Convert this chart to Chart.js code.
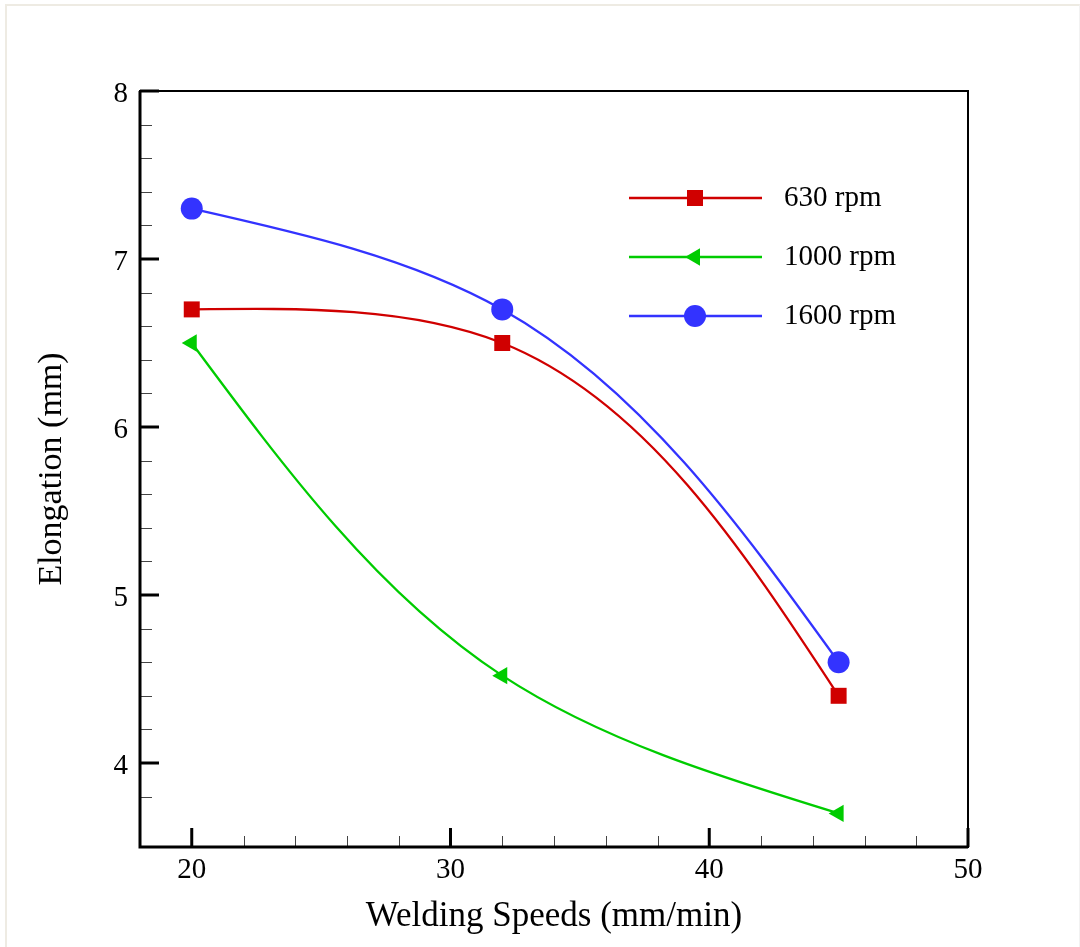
<!DOCTYPE html>
<html>
<head>
<meta charset="utf-8">
<script src="https://cdn.jsdelivr.net/npm/chart.js@4.4.1/dist/chart.umd.min.js"></script>
<style>
  html, body { margin: 0; padding: 0; background: #fff; }
  .wrap { position: relative; width: 1080px; height: 947px; }
  .frame {
    position: absolute; left: 5px; top: 4px; right: 0; bottom: 0;
    border-top: 2px solid #eeebe3; border-left: 2px solid #eeebe3;
    border-right: 1px solid #f2f2f2; pointer-events: none;
  }
  canvas { position: absolute; left: 0; top: 0; }
</style>
</head>
<body>
<div class="wrap">
  <canvas id="myChart" width="1080" height="947"></canvas>
  <div class="frame"></div>
</div>
<script>
const speeds = [20, 32, 45];
const rpm630 = [6.7, 6.5, 4.4];
const rpm1000 = [6.5, 4.52, 3.7];
const rpm1600 = [7.3, 6.7, 4.6];
const seriesLabels = ["630 rpm", "1000 rpm", "1600 rpm"];
const xTicks = [20, 30, 40, 50];
const yTicks = [4, 5, 6, 7, 8];

const serif = "'Liberation Serif', 'Times New Roman', serif";

const toPoints = (ys) => ys.map((y, i) => ({ x: speeds[i], y: y }));

// natural cubic spline on knots s, returns end derivatives of each segment
function naturalSpline(s, v) {
  const n = v.length;
  const h = [];
  const d = [];
  for (let i = 0; i < n - 1; i++) {
    h.push(s[i + 1] - s[i]);
    d.push((v[i + 1] - v[i]) / h[i]);
  }
  const M = new Array(n).fill(0);
  const c = [];
  const r = [];
  for (let i = 1; i < n - 1; i++) {
    const a = h[i - 1];
    const b = 2 * (h[i - 1] + h[i]);
    const rhs = 6 * (d[i] - d[i - 1]);
    const den = i === 1 ? b : b - a * c[i - 1];
    c[i] = h[i] / den;
    r[i] = (i === 1 ? rhs : rhs - a * r[i - 1]) / den;
  }
  for (let i = n - 2; i >= 1; i--) M[i] = r[i] - c[i] * M[i + 1];
  return (i) => [
    d[i] - (h[i] * (2 * M[i] + M[i + 1])) / 6,
    d[i] + (h[i] * (M[i] + 2 * M[i + 1])) / 6,
  ];
}

// smooth the lines like the original plot: parametric spline over chord length
const chordSpline = {
  id: "chordSpline",
  beforeDatasetsDraw(chart) {
    chart.data.datasets.forEach((ds, k) => {
      const meta = chart.getDatasetMeta(k);
      const pts = meta.data;
      if (pts.length < 3) return;
      meta.dataset.updateControlPoints(chart.chartArea);
      const s = [0];
      for (let i = 1; i < pts.length; i++) {
        s.push(s[i - 1] + Math.hypot(pts[i].x - pts[i - 1].x, pts[i].y - pts[i - 1].y));
      }
      const sx = naturalSpline(s, pts.map((p) => p.x));
      const sy = naturalSpline(s, pts.map((p) => p.y));
      for (let i = 0; i < pts.length - 1; i++) {
        const h = (s[i + 1] - s[i]) / 3;
        const [x0, x1] = sx(i);
        const [y0, y1] = sy(i);
        pts[i].cp2x = pts[i].x + x0 * h;
        pts[i].cp2y = pts[i].y + y0 * h;
        pts[i + 1].cp1x = pts[i + 1].x - x1 * h;
        pts[i + 1].cp1y = pts[i + 1].y - y1 * h;
      }
    });
  },
};

// box round the plot + inward major/minor ticks
const frameTicks = {
  id: "frameTicks",
  beforeDatasetsDraw(chart) {
    const { ctx, chartArea: a, scales } = chart;
    const xs = scales.x;
    const ys = scales.y;
    ctx.save();
    // minor ticks
    ctx.lineWidth = 1;
    ctx.strokeStyle = "#444";
    for (let v = xs.min + 2; v < xs.max; v += 2) {
      if (xTicks.includes(v)) continue;
      const px = Math.round(xs.getPixelForValue(v)) + 0.5;
      ctx.beginPath();
      ctx.moveTo(px, a.bottom);
      ctx.lineTo(px, a.bottom - 11);
      ctx.stroke();
    }
    for (let i = Math.round(ys.min * 5) + 1; i < Math.round(ys.max * 5); i++) {
      if (i % 5 === 0) continue;
      const py = Math.round(ys.getPixelForValue(i / 5)) + 0.5;
      ctx.beginPath();
      ctx.moveTo(a.left, py);
      ctx.lineTo(a.left + 12, py);
      ctx.stroke();
    }
    // major ticks
    ctx.strokeStyle = "#000";
    ctx.lineWidth = 3;
    xTicks.forEach((v) => {
      const px = xs.getPixelForValue(v);
      ctx.beginPath();
      ctx.moveTo(px, a.bottom);
      ctx.lineTo(px, a.bottom - 19);
      ctx.stroke();
    });
    yTicks.forEach((v) => {
      const py = ys.getPixelForValue(v);
      ctx.beginPath();
      ctx.moveTo(a.left, py);
      ctx.lineTo(a.left + 19, py);
      ctx.stroke();
    });
    // frame
    ctx.lineWidth = 2;
    ctx.strokeRect(a.left, a.top, a.right - a.left, a.bottom - a.top);
    ctx.lineWidth = 3;
    ctx.beginPath();
    ctx.moveTo(a.left, a.top);
    ctx.lineTo(a.left, a.bottom);
    ctx.lineTo(a.right, a.bottom);
    ctx.stroke();
    ctx.restore();
  },
};

// legend with line + marker, inside the plot top right
const lineLegend = {
  id: "lineLegend",
  afterDatasetsDraw(chart) {
    const { ctx, chartArea: a } = chart;
    ctx.save();
    chart.data.datasets.forEach((ds, i) => {
      const y = a.top + 107 + i * 59;
      const x0 = a.left + 489;
      const x1 = a.left + 622;
      ctx.strokeStyle = ds.borderColor;
      ctx.lineWidth = ds.borderWidth;
      ctx.beginPath();
      ctx.moveTo(x0, y);
      ctx.lineTo(x1, y);
      ctx.stroke();
      ctx.fillStyle = ds.backgroundColor;
      Chart.helpers.drawPoint(
        ctx,
        { pointStyle: ds.pointStyle, rotation: ds.pointRotation || 0, radius: ds.pointRadius, borderWidth: 0 },
        a.left + 555,
        y
      );
      ctx.fillStyle = "#000";
      ctx.font = "29px " + serif;
      ctx.textBaseline = "middle";
      ctx.textAlign = "left";
      ctx.fillText(ds.label, a.left + 644, y);
    });
    ctx.restore();
  },
};

const createDatasets = () => {
  return [
    {
      label: seriesLabels[0],
      data: toPoints(rpm630),
      borderColor: "#d00000",
      backgroundColor: "#d00000",
      borderWidth: 2.3,
      pointStyle: "rect",
      pointRadius: 11.3,
      pointBorderWidth: 0,
    },
    {
      label: seriesLabels[1],
      data: toPoints(rpm1000),
      borderColor: "#00cc00",
      backgroundColor: "#00cc00",
      borderWidth: 2.3,
      pointStyle: "triangle",
      pointRotation: -90,
      pointRadius: 10,
      pointBorderWidth: 0,
    },
    {
      label: seriesLabels[2],
      data: toPoints(rpm1600),
      borderColor: "#3333ff",
      backgroundColor: "#3333ff",
      borderWidth: 2.3,
      pointStyle: "circle",
      pointRadius: 11,
      pointBorderWidth: 0,
    },
  ];
};

const config = {
  type: "line",
  data: { datasets: createDatasets() },
  options: {
    responsive: false,
    animation: false,
    elements: {
      line: { tension: 0.4, capBezierPoints: false },
    },
    layout: { padding: { top: 91, right: 112, left: 0, bottom: 0 } },
    plugins: {
      legend: false,
      tooltip: { enabled: false },
    },
    scales: {
      x: {
        type: "linear",
        min: 18,
        max: 50,
        afterBuildTicks: (scale) => {
          scale.ticks = xTicks.map((v) => ({ value: v }));
        },
        afterFit: (scale) => {
          scale.height = 100;
        },
        grid: { display: false, drawTicks: false },
        border: { display: false },
        ticks: {
          color: "#000",
          padding: 6,
          maxRotation: 0,
          font: { family: serif, size: 29 },
        },
        title: {
          display: true,
          text: "Welding Speeds (mm/min)",
          color: "#000",
          padding: { top: 0, bottom: 9 },
          font: { family: serif, size: 35 },
        },
      },
      y: {
        type: "linear",
        min: 3.5,
        max: 8,
        afterBuildTicks: (scale) => {
          scale.ticks = yTicks.map((v) => ({ value: v }));
        },
        afterFit: (scale) => {
          scale.width = 140;
        },
        grid: { display: false, drawTicks: false },
        border: { display: false },
        ticks: {
          color: "#000",
          padding: 12,
          labelOffset: 3,
          font: { family: serif, size: 29 },
        },
        title: {
          display: true,
          text: "Elongation (mm)",
          color: "#000",
          padding: { top: 32, bottom: 0 },
          font: { family: serif, size: 34 },
        },
      },
    },
  },
  plugins: [chordSpline, frameTicks, lineLegend],
};

const ctx = document.getElementById("myChart").getContext("2d");
const c = new Chart(ctx, config);
</script>
</body>
</html>
